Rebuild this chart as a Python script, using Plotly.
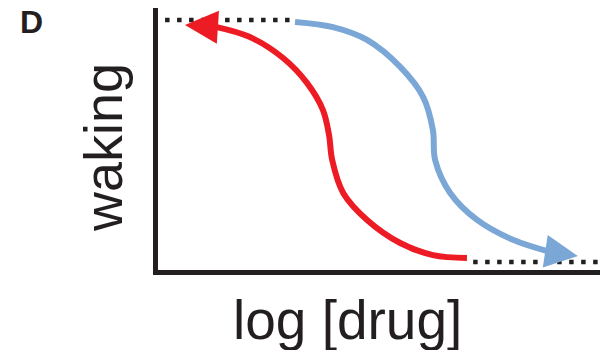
import plotly.graph_objects as go

# Data (x: log[drug] in arbitrary units 0-100, y: waking 0-100)
red_x = [69.9, 62.2, 54.8, 47.3, 41.9, 39.4, 38.7, 37.3, 33.7, 28.3, 20.8, 13.3, 6.1]
red_y = [4.6, 5.7, 10.3, 19.1, 29.4, 42.0, 51.5, 61.1, 71.4, 80.9, 88.9, 92.7, 93.5]

blue_x = [31.0, 39.6, 47.3, 54.8, 60.0, 62.2, 62.7, 66.1, 72.2, 80.3, 88.7, 95.0]
blue_y = [94.7, 92.7, 87.8, 77.5, 66.0, 53.4, 42.0, 29.4, 19.1, 11.5, 6.9, 5.3]

top_dot_x = [1.6, 30.5]
top_dot_y = [95.4, 95.4]
bot_dot_x = [71.3, 100]
bot_dot_y = [3.1, 3.1]

x_title = "log [drug]"
y_title = "waking"
panel_label = "D"

RED = "#ed1c24"
BLUE = "#7ba7d7"
INK = "#231f20"

fig = go.Figure()

fig.add_trace(go.Scatter(x=top_dot_x, y=top_dot_y, mode="lines",
                         line=dict(color=INK, width=4.5, dash="4.5px,7.5px")))
fig.add_trace(go.Scatter(x=bot_dot_x, y=bot_dot_y, mode="lines",
                         line=dict(color=INK, width=4.5, dash="4.5px,7.5px")))

fig.add_trace(go.Scatter(x=red_x[:-1], y=red_y[:-1], mode="lines",
                         line=dict(color=RED, width=6, shape="spline", smoothing=1.0)))
fig.add_trace(go.Scatter(x=blue_x[:-1], y=blue_y[:-1], mode="lines",
                         line=dict(color=BLUE, width=6, shape="spline", smoothing=1.0)))

for xs, ys, col in [(red_x, red_y, RED), (blue_x, blue_y, BLUE)]:
    fig.add_annotation(x=xs[-1], y=ys[-1], ax=xs[-2], ay=ys[-2],
                       xref="x", yref="y", axref="x", ayref="y",
                       text="", showarrow=True, arrowhead=2, arrowsize=1.2,
                       arrowwidth=5.5, arrowcolor=col, standoff=0)

font = "Liberation Sans, Arial, Helvetica, sans-serif"
fig.add_annotation(text=y_title, xref="paper", yref="paper", x=-0.124, y=0.466,
                   textangle=-90, showarrow=False, xanchor="center", yanchor="middle",
                   font=dict(family=font, size=54, color=INK))
fig.add_annotation(text=x_title, xref="paper", yref="paper", x=0.429, y=-0.19,
                   showarrow=False, xanchor="center", yanchor="middle",
                   font=dict(family=font, size=55, color=INK))
fig.add_annotation(text="<b>" + panel_label + "</b>", xref="paper", yref="paper",
                   x=-0.286, y=0.945, showarrow=False, xanchor="center", yanchor="middle",
                   font=dict(family=font, size=32, color=INK))

fig.update_layout(
    width=600, height=350,
    margin=dict(l=158, r=0, t=8, b=80),
    paper_bgcolor="white", plot_bgcolor="white",
    showlegend=False,
    xaxis=dict(range=[0, 100], showgrid=False, zeroline=False, showticklabels=False,
               ticks="", showline=True, linewidth=5, linecolor=INK, fixedrange=True),
    yaxis=dict(range=[0, 100], showgrid=False, zeroline=False, showticklabels=False,
               ticks="", showline=True, linewidth=5, linecolor=INK, fixedrange=True),
)

fig.write_html("out.html", config={"displayModeBar": False},
               post_script="document.body.style.margin='0';")
